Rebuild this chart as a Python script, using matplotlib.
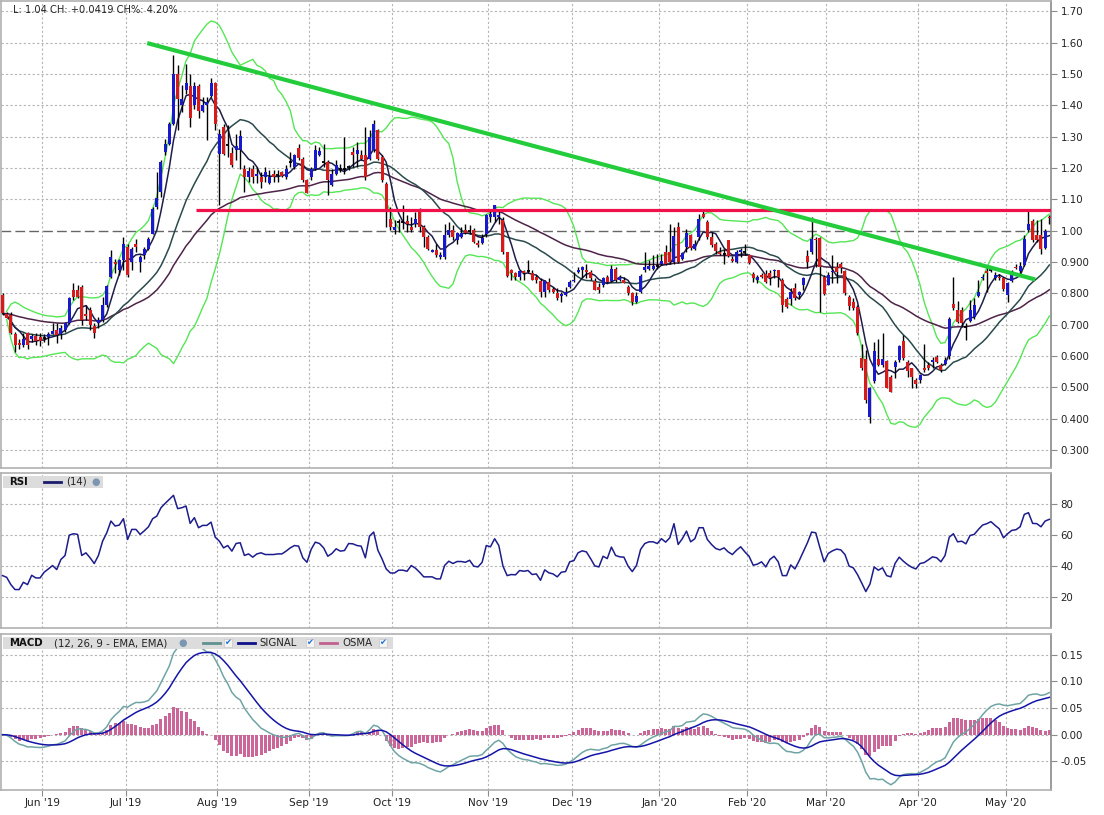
import numpy as np
import pandas as pd
import matplotlib
matplotlib.use("Agg")
import matplotlib.pyplot as plt
from matplotlib.patches import Rectangle
from matplotlib.lines import Line2D

# ---------------- data ----------------
opens = [0.794,0.734,0.731,0.670,0.642,0.635,0.672,0.656,0.664,0.661,
         0.659,0.661,0.670,0.683,0.670,0.683,0.704,0.810,0.810,0.821,
         0.733,0.747,0.696,0.704,0.715,0.763,0.853,0.901,0.874,0.906,
         0.949,0.901,0.959,0.901,0.922,0.943,0.991,1.076,1.124,1.251,
         1.278,1.342,1.501,1.400,1.450,1.461,1.400,1.461,1.382,1.400,
         1.429,1.472,1.246,1.331,1.276,1.248,1.259,1.257,1.198,1.172,
         1.198,1.174,1.172,1.172,1.153,1.180,1.177,1.188,1.172,1.220,
         1.204,1.264,1.230,1.161,1.172,1.198,1.241,1.220,1.220,1.145,
         1.182,1.198,1.198,1.204,1.251,1.246,1.241,1.241,1.230,1.257,
         1.321,1.236,1.150,1.039,1.002,1.028,1.028,1.031,1.012,1.023,
         1.071,1.012,0.980,0.933,0.940,0.917,0.917,0.986,1.002,0.972,
         0.980,1.002,1.000,1.002,0.961,0.961,0.991,1.044,1.044,1.044,
         1.033,0.933,0.876,0.866,0.853,0.871,0.872,0.864,0.851,0.840,
         0.805,0.837,0.813,0.802,0.791,0.794,0.821,0.840,0.869,0.874,
         0.876,0.869,0.840,0.821,0.826,0.851,0.840,0.879,0.842,0.842,
         0.821,0.800,0.773,0.805,0.874,0.879,0.879,0.887,0.895,0.933,
         0.933,0.901,1.012,0.911,0.949,0.986,0.943,0.980,1.055,1.028,
         0.980,0.957,0.933,0.927,0.970,0.911,0.901,0.933,0.933,0.922,
         0.861,0.842,0.858,0.861,0.864,0.872,0.874,0.842,0.781,0.781,
         0.816,0.796,0.828,0.920,0.933,0.975,0.977,0.853,0.828,0.867,
         0.885,0.895,0.871,0.789,0.773,0.757,0.593,0.590,0.406,0.520,
         0.590,0.571,0.584,0.534,0.566,0.587,0.648,0.582,0.561,0.525,
         0.523,0.561,0.571,0.582,0.597,0.571,0.576,0.601,0.765,0.747,
         0.747,0.693,0.711,0.725,0.792,0.850,0.871,0.874,0.850,0.853,
         0.850,0.794,0.839,0.885,0.871,0.890,1.002,1.030,0.986,0.988,
         0.945,1.045]
highs = [0.800,0.741,0.741,0.677,0.656,0.672,0.677,0.670,0.672,0.672,
         0.670,0.677,0.706,0.704,0.699,0.709,0.789,0.832,0.826,0.826,
         0.763,0.757,0.704,0.725,0.789,0.826,0.938,0.911,0.911,0.980,
         0.959,0.949,0.975,0.922,0.949,0.980,1.076,1.188,1.225,1.294,
         1.347,1.560,1.528,1.464,1.533,1.501,1.475,1.469,1.427,1.427,
         1.488,1.475,1.326,1.342,1.336,1.267,1.310,1.321,1.209,1.204,
         1.209,1.204,1.188,1.204,1.193,1.193,1.193,1.191,1.209,1.251,
         1.246,1.278,1.236,1.166,1.204,1.273,1.267,1.278,1.225,1.198,
         1.227,1.214,1.299,1.209,1.267,1.283,1.257,1.331,1.321,1.352,
         1.326,1.241,1.156,1.076,1.033,1.039,1.081,1.049,1.044,1.060,
         1.074,1.018,0.986,0.943,0.959,0.933,1.023,1.028,1.018,0.996,
         1.012,1.021,1.018,1.010,0.970,0.991,1.055,1.071,1.081,1.065,
         1.044,0.933,0.879,0.869,0.874,0.874,0.906,0.874,0.858,0.848,
         0.842,0.848,0.821,0.816,0.805,0.821,0.842,0.869,0.885,0.887,
         0.895,0.874,0.848,0.832,0.853,0.858,0.890,0.883,0.858,0.851,
         0.826,0.805,0.805,0.861,0.933,0.906,0.922,0.925,0.927,0.954,
         1.023,1.012,1.028,0.933,1.004,0.991,0.970,1.055,1.065,1.034,
         0.996,0.964,0.949,0.943,0.970,0.919,0.938,0.946,0.957,0.927,
         0.869,0.858,0.866,0.874,0.874,0.879,0.876,0.848,0.787,0.816,
         0.832,0.807,0.853,0.938,1.044,0.980,0.980,0.858,0.869,0.922,
         0.901,0.901,0.874,0.794,0.784,0.762,0.640,0.619,0.502,0.646,
         0.656,0.672,0.587,0.539,0.587,0.635,0.667,0.587,0.563,0.529,
         0.544,0.640,0.582,0.597,0.603,0.577,0.597,0.725,0.853,0.775,
         0.757,0.704,0.778,0.784,0.842,0.863,0.885,0.885,0.869,0.863,
         0.853,0.837,0.874,0.895,0.901,0.986,1.071,1.039,1.034,1.039,
         1.007,1.050]
lows = [0.731,0.720,0.670,0.614,0.624,0.630,0.621,0.646,0.635,0.632,
        0.646,0.635,0.670,0.642,0.656,0.677,0.702,0.779,0.784,0.699,
        0.715,0.683,0.659,0.688,0.709,0.757,0.848,0.864,0.858,0.874,
        0.853,0.874,0.933,0.869,0.911,0.938,0.989,1.071,1.108,1.241,
        1.273,1.336,1.321,1.379,1.437,1.331,1.390,1.361,1.379,1.291,
        1.427,1.321,1.081,1.241,1.236,1.202,1.225,1.198,1.124,1.156,
        1.154,1.154,1.135,1.156,1.150,1.156,1.156,1.170,1.166,1.204,
        1.198,1.225,1.156,1.119,1.161,1.193,1.238,1.204,1.113,1.142,
        1.177,1.188,1.182,1.193,1.204,1.204,1.225,1.161,1.225,1.252,
        1.225,1.156,1.012,1.002,0.991,0.996,1.007,0.996,0.996,1.012,
        0.996,0.949,0.940,0.933,0.917,0.911,0.911,0.980,0.970,0.959,
        0.978,0.991,0.991,0.961,0.949,0.959,0.980,1.028,1.028,1.023,
        0.927,0.853,0.842,0.842,0.842,0.842,0.864,0.842,0.832,0.789,
        0.789,0.805,0.800,0.778,0.773,0.791,0.816,0.837,0.864,0.848,
        0.848,0.842,0.810,0.800,0.821,0.832,0.837,0.837,0.840,0.832,
        0.794,0.763,0.768,0.802,0.869,0.876,0.874,0.879,0.890,0.890,
        0.895,0.895,0.898,0.906,0.933,0.940,0.938,0.970,1.042,0.975,
        0.949,0.927,0.922,0.895,0.917,0.901,0.898,0.917,0.922,0.893,
        0.837,0.832,0.848,0.834,0.826,0.848,0.821,0.741,0.752,0.763,
        0.778,0.782,0.810,0.880,0.927,0.885,0.740,0.794,0.826,0.832,
        0.832,0.864,0.794,0.747,0.747,0.667,0.555,0.449,0.385,0.513,
        0.569,0.566,0.497,0.484,0.529,0.582,0.587,0.534,0.497,0.499,
        0.513,0.550,0.555,0.561,0.577,0.550,0.571,0.592,0.747,0.704,
        0.693,0.651,0.709,0.718,0.789,0.842,0.805,0.869,0.842,0.842,
        0.807,0.773,0.835,0.877,0.863,0.888,0.996,0.964,0.964,0.927,
        0.943,1.020]
closes = [0.736,0.723,0.672,0.635,0.635,0.656,0.635,0.664,0.649,0.649,
          0.659,0.670,0.680,0.667,0.690,0.704,0.784,0.789,0.789,0.715,
          0.728,0.699,0.672,0.715,0.763,0.823,0.917,0.895,0.906,0.959,
          0.858,0.943,0.949,0.917,0.943,0.975,1.071,1.103,1.220,1.278,
          1.340,1.501,1.421,1.421,1.472,1.361,1.461,1.382,1.400,1.411,
          1.472,1.342,1.310,1.246,1.274,1.209,1.270,1.301,1.172,1.191,
          1.172,1.182,1.156,1.188,1.172,1.172,1.177,1.174,1.198,1.220,
          1.241,1.233,1.161,1.121,1.198,1.259,1.255,1.220,1.161,1.180,
          1.209,1.198,1.198,1.204,1.241,1.259,1.230,1.172,1.299,1.340,
          1.230,1.161,1.065,1.012,1.012,1.028,1.028,1.023,1.002,1.039,
          1.012,0.980,0.943,0.940,0.922,0.922,0.986,1.002,0.980,0.993,
          0.993,0.993,1.000,0.965,0.954,0.978,1.049,1.055,1.081,1.049,
          0.933,0.855,0.866,0.853,0.871,0.866,0.872,0.842,0.842,0.805,
          0.840,0.810,0.805,0.784,0.798,0.805,0.837,0.844,0.876,0.883,
          0.869,0.848,0.812,0.810,0.848,0.837,0.879,0.842,0.853,0.834,
          0.800,0.773,0.791,0.855,0.883,0.887,0.887,0.887,0.904,0.895,
          0.901,0.983,0.901,0.929,0.993,0.946,0.957,1.039,1.044,0.980,
          0.954,0.936,0.927,0.927,0.919,0.904,0.933,0.940,0.933,0.898,
          0.848,0.853,0.851,0.837,0.848,0.876,0.851,0.763,0.757,0.805,
          0.784,0.803,0.848,0.901,0.975,0.970,0.885,0.797,0.858,0.871,
          0.869,0.881,0.800,0.760,0.752,0.672,0.561,0.460,0.499,0.616,
          0.573,0.592,0.499,0.486,0.580,0.633,0.593,0.552,0.534,0.510,
          0.541,0.555,0.561,0.587,0.582,0.555,0.587,0.718,0.752,0.710,
          0.707,0.693,0.747,0.762,0.805,0.853,0.864,0.874,0.858,0.848,
          0.814,0.832,0.869,0.882,0.888,0.975,1.020,0.970,0.970,0.943,
          0.998,1.040]
rsi_values = [33.8,32.7,28.0,24.8,24.8,29.5,28.0,34.0,32.3,32.3,
              36.0,38.1,40.3,37.7,44.2,46.8,59.9,60.8,60.4,46.8,
              48.5,45.3,41.6,46.8,56.0,61.4,69.0,65.8,66.4,70.5,
              57.1,63.6,63.6,60.4,62.7,65.3,70.5,72.2,77.6,80.4,
              83.0,85.6,77.0,77.6,78.7,67.5,71.2,64.7,66.2,66.2,
              68.3,58.6,56.0,51.7,53.2,49.6,54.5,55.0,46.8,47.8,
              45.7,47.8,48.5,47.4,47.4,47.4,47.8,47.8,49.6,51.7,
              53.2,52.8,45.3,42.4,50.7,55.4,54.5,51.7,46.3,48.1,
              51.1,49.6,50.0,54.5,54.3,53.2,52.8,45.3,59.3,61.9,
              50.2,44.6,38.1,35.5,35.5,37.3,37.3,36.6,40.3,38.6,
              36.0,33.0,33.0,33.0,31.7,31.7,40.3,43.1,41.6,42.9,
              42.9,42.4,43.7,39.9,39.4,42.4,53.2,52.4,57.6,53.2,
              39.9,33.8,34.5,34.3,37.1,36.6,37.1,34.5,34.9,30.8,
              37.5,35.6,34.9,33.0,36.0,36.4,42.7,43.5,48.5,49.8,
              49.1,44.8,40.1,39.4,46.3,44.8,52.2,46.8,45.9,45.7,
              39.9,36.4,40.3,50.7,54.5,55.6,55.6,54.5,57.6,55.4,
              58.2,67.3,53.9,57.6,62.5,55.6,57.6,64.7,64.7,57.1,
              53.9,51.3,50.4,51.7,49.1,47.4,50.2,52.4,49.1,46.3,
              40.5,41.2,42.7,39.4,44.2,46.3,42.7,33.8,33.8,40.7,
              38.1,43.3,49.1,55.0,61.9,61.4,51.7,42.7,48.1,49.8,
              50.9,50.4,47.4,39.9,38.8,34.5,29.1,23.5,28.4,39.4,
              37.3,38.8,33.8,33.0,41.6,45.7,43.1,40.9,39.2,38.1,
              41.6,42.2,44.0,45.9,45.3,42.7,46.8,58.6,60.8,55.6,
              56.0,54.3,59.7,60.4,63.6,66.4,67.3,68.6,66.2,64.0,
              58.2,60.8,63.0,63.4,65.3,73.3,74.4,67.5,67.3,65.3,
              69.0,70.1]

start_date = "2019-05-17"
end_date = "2020-05-15"
holidays = ["2019-05-27", "2019-07-04", "2019-09-02", "2019-11-28", "2019-12-25",
            "2020-01-01", "2020-01-20", "2020-02-17", "2020-04-10"]
month_labels = ["Jun '19", "Jul '19", "Aug '19", "Sep '19", "Oct '19", "Nov '19",
                "Dec '19", "Jan '20", "Feb '20", "Mar '20", "Apr '20", "May '20"]
price_ticks = [0.3, 0.4, 0.5, 0.6, 0.7, 0.8, 0.9, 1.0, 1.1, 1.2, 1.3, 1.4, 1.5, 1.6, 1.7]
rsi_ticks = [20, 40, 60, 80]
macd_ticks = [-0.05, 0.0, 0.05, 0.10, 0.15]
trend_x = [34.7, 247.6]
trend_y = [1.599, 0.8445]
resist_x = [46.3, 251.45]
resist_y = [1.065, 1.065]
header_text = "L: 1.04 CH: +0.0419 CH%: 4.20%"

# ---------------- derived series ----------------
o = np.array(opens); h = np.array(highs); l = np.array(lows); c = np.array(closes)
n = len(c)
x = np.arange(n)
dates = pd.bdate_range(start_date, end_date, freq="C", holidays=holidays)[:n]
month_pos = [i - 0.5 for i in range(1, n) if dates[i].month != dates[i - 1].month]

cs = pd.Series(c)
sma5 = cs.rolling(5, min_periods=1).mean()
sma20 = cs.rolling(20, min_periods=1).mean()
std20 = cs.rolling(20, min_periods=2).std(ddof=0)
bb_up = sma20 + 2 * std20
bb_lo = sma20 - 2 * std20
ema50 = cs.ewm(span=50, adjust=False).mean()
macd = cs.ewm(span=12, adjust=False).mean() - cs.ewm(span=26, adjust=False).mean()
signal = macd.ewm(span=9, adjust=False).mean()
osma = macd - signal

# ---------------- figure ----------------
W, H = 1104, 815
fig = plt.figure(figsize=(W / 100, H / 100), dpi=100)
fig.patch.set_facecolor("white")

def rect(left, top, right, bottom):
    return [left / W, 1 - bottom / H, (right - left) / W, (bottom - top) / H]

def fx(px):
    return px / W

def fy(py):
    return 1 - py / H

ax_p = fig.add_axes(rect(0.5, 0.5, 1051, 468))
ax_r = fig.add_axes(rect(0.5, 473, 1051, 628))
ax_m = fig.add_axes(rect(0.5, 634, 1051, 790))

GRID = "#b4b4b4"
TICK_FS = 7.4
for ax in (ax_p, ax_r, ax_m):
    ax.set_xlim(-0.48, 251.4)
    for s in ax.spines.values():
        s.set_color("#b0b0b0")
        s.set_linewidth(1.2)
    ax.spines["right"].set_color("#8a8a8a")
    ax.yaxis.tick_right()
    ax.tick_params(axis="y", direction="out", length=4, width=0.8, colors="#8a8a8a",
                   labelcolor="#222222", labelsize=TICK_FS, pad=3)
    ax.set_xticks(month_pos)
    for mp in month_pos:
        ax.axvline(mp, color=GRID, lw=0.8, ls=(0, (2, 2)), zorder=0)

ax_p.tick_params(axis="x", length=0, labelbottom=False)
ax_r.tick_params(axis="x", length=0, labelbottom=False)
ax_m.tick_params(axis="x", direction="out", length=4, width=0.8, colors="#8a8a8a",
                 labelcolor="#222222", labelsize=7.6, pad=2)
ax_m.set_xticklabels(month_labels)

# ---- price panel ----
ax_p.set_ylim(0.2426, 1.735)
ax_p.set_yticks(price_ticks)
ax_p.set_yticklabels([f"{v:.2f}" if v >= 0.995 else f"{v:.3f}" for v in price_ticks])
for v in price_ticks:
    if abs(v - 1.0) > 1e-6:
        ax_p.axhline(v, color=GRID, lw=0.8, ls=(0, (2, 2)), zorder=0)
ax_p.axhline(1.0, color="#666666", lw=1.0, ls=(0, (7, 3)), zorder=1)

ax_p.plot(x, bb_up, color="#55e655", lw=1.0, zorder=2)
ax_p.plot(x, bb_lo, color="#55e655", lw=1.0, zorder=2)
ax_p.plot(x, ema50, color="#4d2348", lw=1.1, zorder=2)
ax_p.plot(x, sma20, color="#2a4a4c", lw=1.1, zorder=2)
ax_p.plot(x, sma5, color="#1e1e4a", lw=1.1, zorder=2)

diff = c - o
up = diff > 0.0025
down = diff < -0.0025
doji = ~(up | down)
ax_p.vlines(x, l, h, color="black", lw=1.0, zorder=3)
ax_p.bar(x[up], diff[up], bottom=o[up], width=0.72, color="#1818cc", zorder=4, linewidth=0)
ax_p.bar(x[down], -diff[down], bottom=c[down], width=0.72, color="#d81a1a", zorder=4, linewidth=0)
ax_p.hlines(c[doji], x[doji] - 0.36, x[doji] + 0.36, color="black", lw=1.3, zorder=4)

ax_p.plot(resist_x, resist_y, color="#f0114a", lw=2.3, solid_capstyle="butt", zorder=5)
ax_p.plot(trend_x, trend_y, color="#22cc3a", lw=3.0, solid_capstyle="butt", zorder=5)

fig.text(fx(13), fy(10), header_text, fontsize=7.1, color="#222222", va="center", ha="left")

# ---- RSI panel ----
ax_r.set_ylim(0, 100)
ax_r.set_yticks(rsi_ticks)
ax_r.set_yticklabels([str(v) for v in rsi_ticks])
for v in rsi_ticks:
    ax_r.axhline(v, color=GRID, lw=0.8, ls=(0, (2, 2)), zorder=0)
ax_r.plot(x, rsi_values, color="#1c1c8c", lw=1.1, zorder=3)

# ---- MACD panel ----
ax_m.set_ylim(-0.1036, 0.1886)
ax_m.set_yticks(macd_ticks)
ax_m.set_yticklabels([f"{v:.2f}" for v in macd_ticks])
for v in macd_ticks:
    ax_m.axhline(v, color=GRID, lw=0.8, ls=(0, (2, 2)), zorder=0)
ax_m.bar(x, osma, width=0.72, color="#cc6699", linewidth=0, zorder=2)
ax_m.plot(x, macd, color="#70a4a4", lw=1.1, zorder=3)
ax_m.plot(x, signal, color="#1414a8", lw=1.1, zorder=3)

# ---- panel headers ----
def box(l_, t_, r_, b_):
    fig.add_artist(Rectangle((fx(l_), fy(b_)), fx(r_) - fx(l_), fy(t_) - fy(b_),
                             transform=fig.transFigure, facecolor="#dcdcdc",
                             edgecolor="none", zorder=10))

def swatch(x0, x1, yy, col):
    fig.add_artist(Line2D([fx(x0), fx(x1)], [fy(yy), fy(yy)], transform=fig.transFigure,
                          color=col, lw=2.0, zorder=11))

def check(xx, yy):
    fig.add_artist(Rectangle((fx(xx - 4), fy(yy + 4)), fx(8), 8 / H,
                             transform=fig.transFigure, facecolor="#f4f4f4",
                             edgecolor="#c8c8c8", lw=0.5, zorder=11))
    fig.text(fx(xx), fy(yy), "\u2714", fontsize=6, color="#1f6fd6",
             ha="center", va="center", zorder=12)

def icon(xx, yy):
    fig.text(fx(xx), fy(yy), "\u25cf", fontsize=7, color="#7a96b0",
             ha="center", va="center", zorder=12)

box(2.5, 475.5, 102.5, 488)
fig.text(fx(9), fy(482), "RSI", fontsize=7.3, fontweight="bold", color="#111111",
         va="center", zorder=12)
swatch(44, 61, 481.5, "#1c1c6e")
fig.text(fx(66), fy(482), "(14)", fontsize=7.3, color="#222222", va="center", zorder=12)
icon(96, 482)

box(2.5, 636.5, 393, 649)
fig.text(fx(9), fy(643), "MACD", fontsize=7.3, fontweight="bold", color="#111111",
         va="center", zorder=12)
fig.text(fx(54), fy(643), "(12, 26, 9 - EMA, EMA)", fontsize=7.3, color="#222222",
         va="center", zorder=12)
icon(183, 643)
swatch(203, 220, 642.5, "#5f9090")
check(228, 643)
swatch(238, 255, 642.5, "#10108a")
fig.text(fx(259), fy(643), "SIGNAL", fontsize=7.3, color="#222222", va="center", zorder=12)
check(310, 643)
swatch(320, 337, 642.5, "#c06090")
fig.text(fx(342), fy(643), "OSMA", fontsize=7.3, color="#222222", va="center", zorder=12)
check(383, 643)

fig.savefig("out.png", dpi=100, facecolor="white")
